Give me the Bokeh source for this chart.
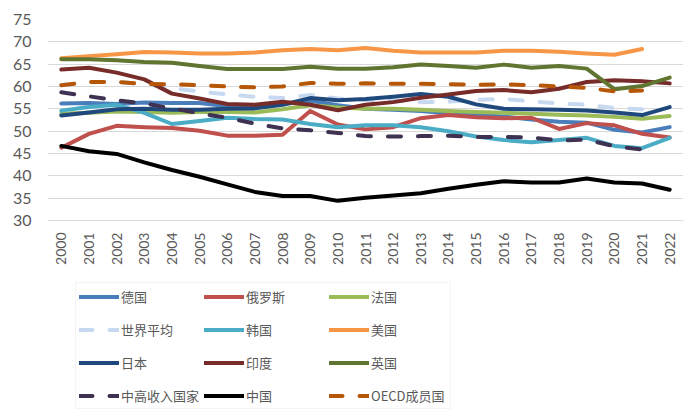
import math
from bokeh.plotting import figure
from bokeh.layouts import column
from bokeh.models import Range1d, FixedTicker, Legend, LegendItem, BoxAnnotation
from bokeh.embed import file_html
from bokeh.resources import INLINE

years = list(range(2000, 2023))
y_ticks = list(range(30, 80, 5))

germany = [56.2, 56.3, 56.1, 56.4, 56.3, 56.3, 55.6, 55.4, 56.0, 56.8, 55.8, 55.0, 54.8, 54.5, 54.0, 53.6, 53.3, 52.6, 52.1, 51.9, 50.3, 49.7, 50.9]
russia = [46.3, 49.4, 51.2, 50.9, 50.7, 50.1, 49.0, 49.0, 49.2, 54.5, 51.5, 50.4, 50.9, 52.9, 53.6, 53.1, 52.9, 53.0, 50.5, 51.8, 51.3, 49.4, 48.6]
france = [53.9, 54.1, 54.4, 54.3, 54.1, 54.3, 54.3, 54.2, 54.9, 55.8, 55.3, 55.0, 55.0, 54.8, 54.5, 54.3, 54.1, 53.9, 53.7, 53.5, 53.2, 52.8, 53.4]
world = [60.3, 61.0, 61.0, 60.6, 59.6, 58.9, 58.2, 57.7, 57.4, 58.1, 57.3, 57.0, 56.8, 56.5, 56.6, 57.0, 57.2, 56.7, 56.2, 55.9, 55.2, 54.9, None]
korea = [54.6, 55.4, 55.9, 54.1, 51.6, 52.3, 53.0, 52.7, 52.6, 51.6, 50.9, 51.3, 51.3, 50.9, 50.0, 48.8, 48.0, 47.5, 48.0, 48.5, 46.7, 46.2, 48.5]
usa = [66.3, 66.8, 67.2, 67.7, 67.6, 67.4, 67.4, 67.6, 68.1, 68.4, 68.1, 68.6, 68.0, 67.6, 67.6, 67.6, 68.0, 68.0, 67.8, 67.4, 67.1, 68.4, None]
japan = [53.5, 54.2, 54.9, 55.0, 54.8, 54.8, 55.0, 55.1, 55.9, 57.4, 56.9, 57.2, 57.7, 58.3, 57.7, 56.0, 55.0, 54.9, 54.8, 54.6, 54.2, 53.6, 55.4]
india = [63.8, 64.2, 63.1, 61.6, 58.4, 57.3, 56.1, 55.9, 56.6, 55.9, 54.7, 55.9, 56.5, 57.5, 58.2, 59.0, 59.2, 58.7, 59.5, 61.0, 61.4, 61.2, 60.7]
uk = [66.1, 66.1, 65.9, 65.5, 65.3, 64.6, 63.9, 63.9, 63.9, 64.4, 64.0, 64.0, 64.3, 64.9, 64.6, 64.2, 64.9, 64.2, 64.6, 64.0, 59.4, 60.1, 62.0]
upper_mid = [58.7, 57.8, 56.9, 56.2, 55.1, 54.0, 53.0, 51.7, 50.6, 50.2, 49.6, 48.9, 48.8, 48.9, 49.0, 48.7, 48.7, 48.6, 47.9, 48.1, 46.6, 45.9, None]
china = [46.7, 45.5, 44.9, 43.0, 41.3, 39.8, 38.1, 36.4, 35.5, 35.5, 34.4, 35.1, 35.6, 36.1, 37.1, 38.0, 38.8, 38.5, 38.5, 39.4, 38.5, 38.3, 36.9]
oecd = [60.3, 61.0, 61.0, 60.6, 60.5, 60.3, 60.0, 59.8, 60.0, 60.8, 60.6, 60.7, 60.6, 60.6, 60.5, 60.4, 60.5, 60.3, 60.0, 59.7, 58.9, 59.1, None]

series_names = ["德国", "俄罗斯", "法国", "世界平均", "韩国", "美国", "日本", "印度", "英国", "中高收入国家", "中国", "OECD成员国"]
series_values = [germany, russia, france, world, korea, usa, japan, india, uk, upper_mid, china, oecd]
series_colors = ["#4A7EBB", "#C0504D", "#9BBB59", "#C6D9F1", "#4BACC6", "#F79646",
                 "#1F497D", "#772C2A", "#5F7530", "#3F3151", "#000000", "#B65708"]
series_dashed = [False, False, False, True, False, False, False, False, False, True, False, True]

W = 700
FL, FR = 47, 683  # frame left/right in page pixels
p = figure(width=W, height=280, x_range=Range1d(1999.5, 2022.5), y_range=Range1d(30, 75),
           output_backend="svg", toolbar_location=None,
           min_border_left=FL, min_border_right=W - FR, min_border_top=19, min_border_bottom=60)
p.outline_line_color = None
p.background_fill_color = "white"
p.border_fill_color = "white"

p.xgrid.grid_line_color = None
p.ygrid.grid_line_color = "#D9D9D9"
p.ygrid.grid_line_width = 1

p.yaxis.ticker = FixedTicker(ticks=y_ticks)
p.yaxis.axis_line_color = None
p.yaxis.major_tick_line_color = None
p.yaxis.minor_tick_line_color = None
p.yaxis.major_tick_out = 0
p.yaxis.major_label_text_font = "Lato"
p.yaxis.major_label_text_font_size = "16px"
p.yaxis.major_label_text_color = "#595959"
p.yaxis.major_label_standoff = 16

p.xaxis.ticker = FixedTicker(ticks=years)
p.xaxis.axis_line_color = "#D9D9D9"
p.xaxis.major_tick_line_color = None
p.xaxis.minor_tick_line_color = None
p.xaxis.major_tick_out = 0
p.xaxis.major_label_orientation = math.pi / 2
p.xaxis.major_label_text_font = "Lato"
p.xaxis.major_label_text_font_size = "14px"
p.xaxis.major_label_text_color = "#595959"
p.xaxis.major_label_standoff = 12

# legend panel (separate figure below the chart; its frame is aligned with the chart frame)
LH = 138
lg = figure(width=W, height=LH, x_range=Range1d(FL, FR), y_range=Range1d(0, LH),
            output_backend="svg", toolbar_location=None, min_border=0,
            x_axis_location=None, y_axis_location=None)
lg.grid.visible = False
lg.outline_line_color = None
lg.border_fill_color = "white"
lg.background_fill_color = "white"
lg.add_layout(BoxAnnotation(left=75, right=450, bottom=10, top=136,
                            fill_color="white", fill_alpha=1.0,
                            line_color="#D9D9D9", line_width=1))

items = []
for name, vals, col, dashed in zip(series_names, series_values, series_colors, series_dashed):
    ys = [float("nan") if v is None else v for v in vals]
    kw = dict(line_color=col, line_width=4, line_join="round", line_cap="round")
    if dashed:
        kw.update(line_dash="13 17")
    p.line(years, ys, **kw)
    r = lg.line([float("nan")], [float("nan")], **kw)
    items.append(LegendItem(label=name, renderers=[r]))

col_x = [79, 204, 329]
for ci in range(3):
    col_items = items[ci::3]
    leg = Legend(items=col_items, location=(col_x[ci] - FL, 10), orientation="vertical",
                 glyph_width=40, glyph_height=25, label_height=25, label_standoff=2,
                 spacing=8, padding=0, margin=0,
                 label_text_font="Noto Sans CJK SC", label_text_font_size="13px",
                 label_text_color="#595959",
                 border_line_color=None, background_fill_alpha=0.0)
    lg.add_layout(leg, "center")

layout = column(p, lg, spacing=0)
open("out.html", "w").write(file_html(layout, INLINE))
